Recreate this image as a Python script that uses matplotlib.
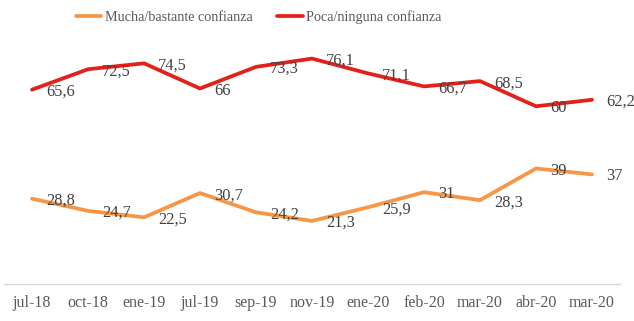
import matplotlib
matplotlib.use("Agg")
import matplotlib.pyplot as plt

categories = ["jul-18", "oct-18", "ene-19", "jul-19", "sep-19", "nov-19",
              "ene-20", "feb-20", "mar-20", "abr-20", "mar-20"]
mucha = [28.8, 24.7, 22.5, 30.7, 24.2, 21.3, 25.9, 31, 28.3, 39, 37]
poca = [65.6, 72.5, 74.5, 66, 73.3, 76.1, 71.1, 66.7, 68.5, 60, 62.2]
series_names = ["Mucha/bastante confianza", "Poca/ninguna confianza"]
colors = ["#F79646", "#E32119"]

FONT = "Liberation Serif"

fig = plt.figure(figsize=(6.34, 3.21), dpi=100)
W, H = 634, 321
ax = fig.add_axes([4 / W, 37 / H, 616 / W, 266.6 / H])

x = list(range(len(categories)))
for vals, name, col in [(mucha, series_names[0], colors[0]),
                        (poca, series_names[1], colors[1])]:
    ax.plot(x, vals, color=col, lw=2.7, label=name, solid_capstyle="round",
            solid_joinstyle="round")
    for xi, v in zip(x, vals):
        lab = f"{v:g}".replace(".", ",")
        ax.annotate(lab, (xi, v), xytext=(10, -1.5), textcoords="offset points",
                    ha="left", va="center", fontsize=11.8, color="#404040",
                    family=FONT)

ax.set_xlim(-0.5, len(categories) - 0.5)
ax.set_ylim(0, 90)
ax.set_xticks(x)
ax.set_xticklabels(categories, fontsize=11.5, color="#595959", family=FONT)
ax.tick_params(axis="x", length=0, pad=8)
ax.set_yticks([])
for s in ["top", "left", "right"]:
    ax.spines[s].set_visible(False)
ax.spines["bottom"].set_color("#D9D9D9")
ax.spines["bottom"].set_linewidth(1.0)

handles, labels = ax.get_legend_handles_labels()
leg = fig.legend(handles, labels, loc="center", ncol=2,
                 bbox_to_anchor=(258.5 / W, 1 - 17 / H), frameon=False,
                 prop={"family": FONT, "size": 10.2}, handlelength=1.8,
                 handletextpad=0.25, columnspacing=1.75, borderpad=0)
for t in leg.get_texts():
    t.set_color("#595959")

fig.savefig("out.png", dpi=100)
